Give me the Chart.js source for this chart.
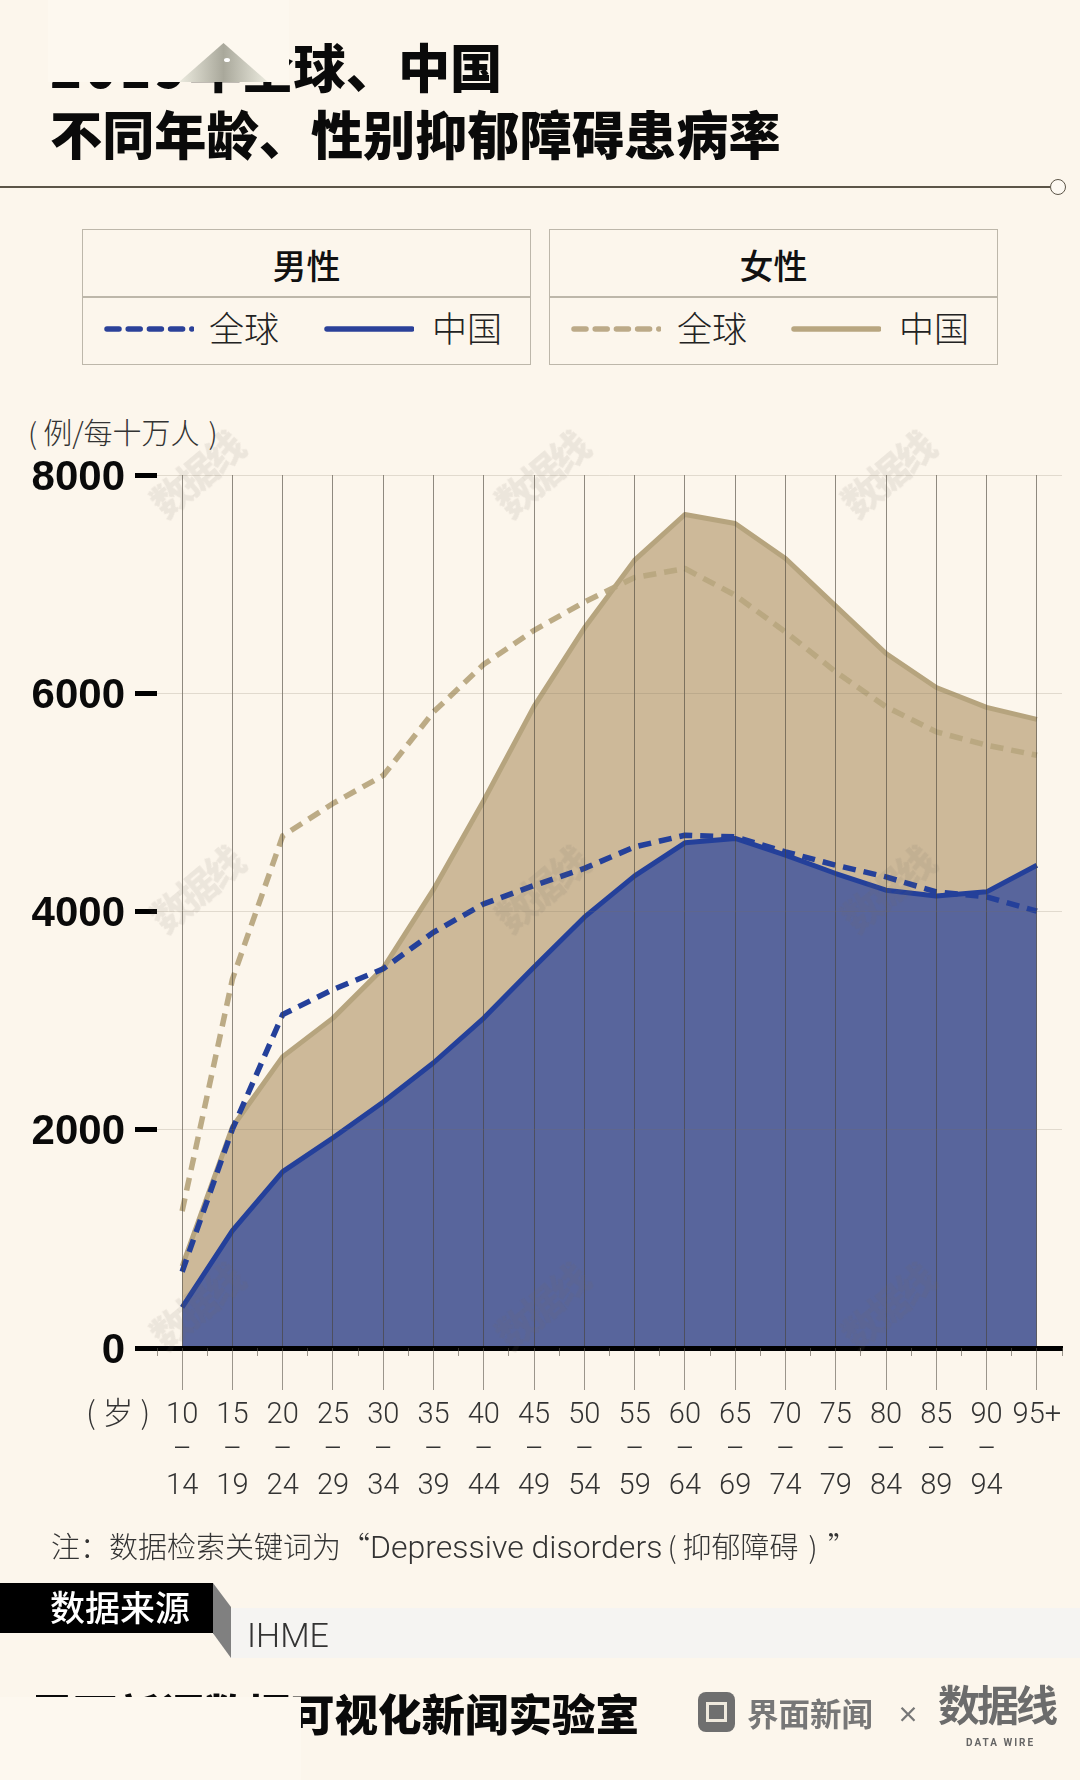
<!DOCTYPE html>
<html lang="zh">
<head>
<meta charset="utf-8">
<script src="https://cdn.jsdelivr.net/npm/chart.js@4/dist/chart.umd.js"></script>
<style>
html, body { margin: 0; padding: 0; background: #fcf6ec; }
#page { position: relative; width: 1080px; height: 1780px; overflow: hidden; background: #fcf6ec;
  font-family: "Noto Sans CJK SC", sans-serif; color: #1a1a1a; }
#page > * { position: absolute; }
canvas { left: 0; top: 0; }
.title { left: 50px; font-size: 52.2px; font-weight: 900; color: #0a0a0a; line-height: 67px; white-space: nowrap; }
.patch { background: #fdf8ef; }
.box { width: 449px; height: 136px; top: 229px; border: 1.5px solid #bdb7aa; box-sizing: border-box; }
.box .divider { position: absolute; left: 0; right: 0; top: 66px; border-top: 2px solid #bdb7aa; }
.box .head { position: absolute; left: 0; right: 0; top: 7px; height: 56px; line-height: 56px; text-align: center;
  font-size: 34px; font-weight: 500; color: #111; }
.box .name { position: absolute; top: 71px; height: 52px; line-height: 52px; font-size: 35px; font-weight: 300; color: #222; }
.box svg { position: absolute; top: 95px; width: 90px; height: 8px; }
.wm { color: rgba(110, 100, 90, .11); font-weight: 900; font-size: 38px; transform: translate(-50%, -50%) rotate(-40deg); white-space: nowrap;
  letter-spacing: -3px; pointer-events: none; }
.txt { white-space: nowrap; font-weight: 300; }
</style>
</head>
<body>
<div id="page">
  <div class="title" style="top:32px"><span style="letter-spacing:3px">2019</span>年全球、中国</div>
  <div class="patch" style="left:48px;top:0;width:241px;height:82px"></div>
  <div style="left:179px;top:43px;width:89px;height:39px;background:linear-gradient(90deg,#ecebdf,#a9a89b 50%,#ecebdf);clip-path:polygon(50% 0,100% 100%,0 100%)"></div>
  <div style="left:224px;top:58px;width:6px;height:4px;border-radius:50%;background:#fff"></div>
  <div class="title" style="top:99px">不同年龄、性别抑郁障碍患病率</div>

  <div style="left:0;top:186px;width:1050px;height:2px;background:#5c5548"></div>
  <div style="left:1050px;top:179px;width:16px;height:16px;border:1.5px solid #5c5548;border-radius:50%;background:#fdf9f2;box-sizing:border-box"></div>

  <div class="box" style="left:82px">
    <div class="head">男性</div><div class="divider"></div>
    <svg style="left:21px"><line x1="3" y1="4" x2="88" y2="4" stroke="#2b4199" stroke-width="5.5" stroke-linecap="round" stroke-dasharray="12 9.2"/></svg>
    <div class="name" style="left:126px">全球</div>
    <svg style="left:241px"><line x1="3" y1="4" x2="88" y2="4" stroke="#2b4199" stroke-width="5.5" stroke-linecap="round"/></svg>
    <div class="name" style="left:349px">中国</div>
  </div>
  <div class="box" style="left:549px">
    <div class="head">女性</div><div class="divider"></div>
    <svg style="left:21px"><line x1="3" y1="4" x2="88" y2="4" stroke="#bcaa88" stroke-width="5.5" stroke-linecap="round" stroke-dasharray="12 9.2"/></svg>
    <div class="name" style="left:127px">全球</div>
    <svg style="left:241px"><line x1="3" y1="4" x2="88" y2="4" stroke="#b8a680" stroke-width="5.5" stroke-linecap="round"/></svg>
    <div class="name" style="left:349px">中国</div>
  </div>

  <div class="txt" style="left:28px;top:411px;font-size:29px;line-height:40px;color:#333">(<span style="margin:0 9px 0 6px">例/每十万人</span>)</div>

  <canvas id="chart" width="1080" height="1780"></canvas>

  <div class="wm" style="left:195px;top:473px">数据线</div>
  <div class="wm" style="left:540px;top:473px">数据线</div>
  <div class="wm" style="left:886px;top:473px">数据线</div>
  <div class="wm" style="left:195px;top:888px">数据线</div>
  <div class="wm" style="left:540px;top:888px">数据线</div>
  <div class="wm" style="left:886px;top:888px">数据线</div>
  <div class="wm" style="left:195px;top:1305px">数据线</div>
  <div class="wm" style="left:540px;top:1305px">数据线</div>
  <div class="wm" style="left:886px;top:1305px">数据线</div>

  <div class="txt" style="left:86px;top:1391px;font-size:31px;line-height:40px;color:#333">( 岁 )</div>
  <div class="txt" style="left:51px;top:1525px;font-size:29px;line-height:40px;color:#333">注：数据检索关键词为“<span style="font-family:Roboto,sans-serif;font-size:32px">Depressive disorders</span><span style="margin:0 6px 0 5px">(</span>抑郁障碍<span style="margin:0 10px">)</span>”</div>

  <div style="left:231px;top:1608px;width:849px;height:50px;background:#f5f4f2"></div>
  <div style="left:213px;top:1583px;width:18px;height:75px;background:#808080;clip-path:polygon(0 0,100% 32%,100% 100%,0 67%)"></div>
  <div style="left:0;top:1583px;width:213px;height:50px;background:#000"></div>
  <div style="left:50px;top:1583px;height:50px;line-height:46px;font-size:35px;font-weight:500;color:#fff;white-space:nowrap">数据来源</div>
  <div class="txt" style="left:247px;top:1613px;font-family:Roboto,sans-serif;font-size:34px;line-height:44px;color:#333">IHME</div>

  <div style="left:30px;top:1688px;font-size:43.5px;font-weight:900;line-height:50px;color:#0a0a0a;white-space:nowrap">界面新闻数据可视化新闻实验室</div>
  <div class="patch" style="left:0;top:1697px;width:301px;height:83px"></div>

  <div style="left:698px;top:1692px;width:37px;height:40px;border-radius:8px;background:#6f6f6f"></div>
  <div style="left:706px;top:1702px;width:21px;height:20px;border:3px solid #efe9dd;box-sizing:border-box"></div>
  <div style="left:747px;top:1690px;font-size:31.5px;font-weight:700;line-height:44px;color:#777;white-space:nowrap">界面新闻</div>
  <div style="left:897px;top:1692px;font-size:22px;font-weight:700;line-height:40px;color:#777">×</div>
  <div style="left:938px;top:1672px;font-size:42px;font-weight:700;line-height:62px;letter-spacing:-3px;color:#6c6c6c;white-space:nowrap">数据线</div>
  <div style="left:966px;top:1737px;font-size:10px;font-weight:700;line-height:12px;letter-spacing:2px;color:#666;font-family:Roboto,sans-serif;white-space:nowrap">DATA WIRE</div>
</div>

<script>
// 年龄组
const ageStart = ['10','15','20','25','30','35','40','45','50','55','60','65','70','75','80','85','90','95+'];
const ageEnd = ['14','19','24','29','34','39','44','49','54','59','64','69','74','79','84','89','94',''];

// 患病率（例/每十万人）
const maleGlobal = [699,2005,3056,3285,3475,3810,4070,4239,4395,4592,4699,4684,4547,4424,4317,4180,4134,4003];
const maleChina = [373,1075,1616,1927,2254,2614,3023,3491,3948,4327,4629,4669,4516,4348,4195,4143,4180,4424];
const femaleGlobal = [1255,3380,4693,4990,5247,5829,6265,6577,6836,7060,7143,6898,6562,6196,5876,5646,5524,5432];
const femaleChina = [749,2025,2670,3023,3481,4202,5018,5880,6597,7220,7638,7555,7235,6798,6364,6053,5870,5760];

const yTicks = [0,2000,4000,6000,8000];

const COLOR_MALE = '#24409a';
const COLOR_MALE_FILL = '#58659c';
const COLOR_FEMALE = '#b6a47e';
const COLOR_FEMALE_DASH = 'rgba(184, 166, 128, .95)';
const COLOR_FEMALE_FILL = '#cdb999';

function points(values) {
    return values.map((v, i) => ({ x: i, y: v }));
}

// 轴下方的刻度：整格长、半格短
const axisTicks = {
    id: 'axisTicks',
    afterDraw(chart) {
        const scale = chart.scales.x;
        const c = chart.ctx;
        c.save();
        c.strokeStyle = 'rgba(90, 85, 75, .6)';
        c.lineWidth = 1;
        scale.ticks.forEach(t => {
            const px = Chart.helpers._alignPixel(chart, scale.getPixelForValue(t.value), 1);
            c.beginPath();
            c.moveTo(px, scale.top);
            c.lineTo(px, scale.top + (Number.isInteger(t.value) ? 42 : 8));
            c.stroke();
        });
        c.restore();
    }
};

new Chart(document.getElementById('chart'), {
    type: 'line',
    plugins: [axisTicks],
    data: {
        datasets: [
            { data: points(maleGlobal), borderColor: COLOR_MALE, borderWidth: 5.5, borderDash: [13, 8], pointRadius: 0, fill: false },
            { data: points(maleChina), borderColor: COLOR_MALE, borderWidth: 5, pointRadius: 0, fill: 'origin', backgroundColor: COLOR_MALE_FILL },
            { data: points(femaleGlobal), borderColor: COLOR_FEMALE_DASH, borderWidth: 5.5, borderDash: [13, 8], pointRadius: 0, fill: false },
            { data: points(femaleChina), borderColor: COLOR_FEMALE, borderWidth: 5, pointRadius: 0, fill: 'origin', backgroundColor: COLOR_FEMALE_FILL }
        ]
    },
    options: {
        responsive: false,
        animation: false,
        devicePixelRatio: 1,
        layout: { padding: { top: 475, right: 18, left: 0, bottom: 0 } },
        plugins: { legend: { display: false }, tooltip: { enabled: false } },
        elements: { line: { tension: 0, borderJoinStyle: 'round' } },
        scales: {
            x: {
                type: 'linear',
                min: -0.5,
                max: 17.5,
                afterFit(scale) { scale.height = 432; },
                afterBuildTicks(scale) {
                    scale.ticks = ageStart.flatMap((_, i) => [{ value: i - 0.5 }, { value: i }]).concat([{ value: 17.5 }]);
                },
                border: { color: '#000', width: 5, z: 2 },
                grid: {
                    z: 1,
                    lineWidth: 1,
                    tickLength: 42,
                    color: ctx => Number.isInteger(ctx.tick.value) ? 'rgba(70, 65, 55, .6)' : 'rgba(0,0,0,0)',
                    tickColor: 'rgba(0,0,0,0)'
                },
                ticks: {
                    autoSkip: false,
                    maxRotation: 0,
                    padding: 8,
                    color: '#333',
                    font: { family: 'Roboto', size: 29, weight: '300', lineHeight: 1.22 },
                    callback(value) {
                        if (!Number.isInteger(value)) return '';
                        return ageEnd[value] ? [ageStart[value], '–', ageEnd[value]] : [ageStart[value]];
                    }
                }
            },
            y: {
                min: 0,
                max: 8000,
                afterFit(scale) { scale.width = 157; },
                afterBuildTicks(scale) { scale.ticks = yTicks.map(v => ({ value: v })); },
                border: { display: false },
                grid: {
                    z: 1,
                    color: 'rgba(120, 110, 90, .2)',
                    lineWidth: 1,
                    tickLength: 22,
                    tickColor: '#000',
                    tickWidth: 5
                },
                ticks: {
                    padding: 10,
                    labelOffset: 3,
                    color: '#0a0a0a',
                    font: { family: 'Liberation Sans', size: 42, weight: 'bold' },
                    callback: value => String(value)
                }
            }
        }
    }
});
</script>
</body>
</html>
